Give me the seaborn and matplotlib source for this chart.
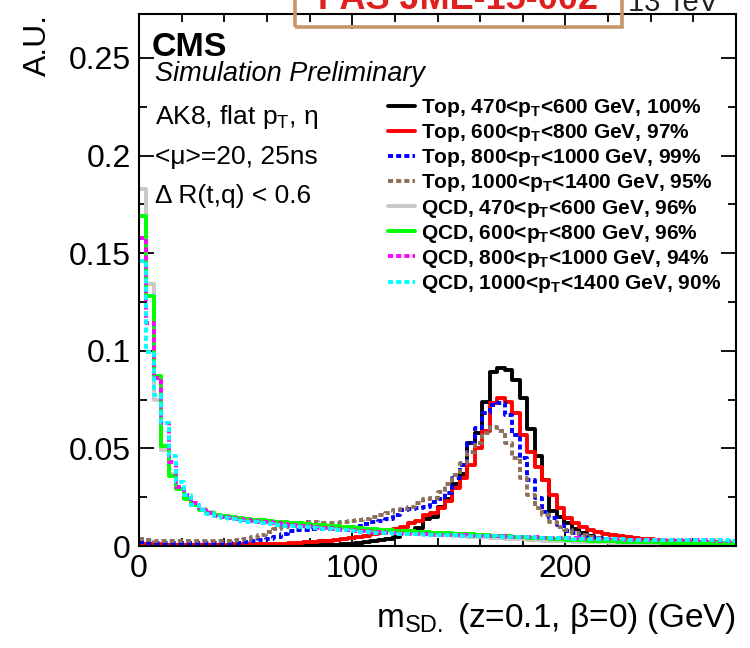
import numpy as np
import pandas as pd
import matplotlib
matplotlib.use("Agg")
import matplotlib.pyplot as plt
import seaborn as sns
from matplotlib.lines import Line2D
from matplotlib.patches import Rectangle
from matplotlib.ticker import MultipleLocator, FixedLocator

# ---------------- data ----------------
bin_width = 3.5
n_bins = 80
x_ticks = [0, 100, 200]
y_ticks = [0, 0.05, 0.1, 0.15, 0.2, 0.25]
y_tick_labels = ["0", "0.05", "0.1", "0.15", "0.2", "0.25"]

labels = [
    "Top, 470<p$_\\mathbf{T}$<600 GeV, 100%",
    "Top, 600<p$_\\mathbf{T}$<800 GeV, 97%",
    "Top, 800<p$_\\mathbf{T}$<1000 GeV, 99%",
    "Top, 1000<p$_\\mathbf{T}$<1400 GeV, 95%",
    "QCD, 470<p$_\\mathbf{T}$<600 GeV, 96%",
    "QCD, 600<p$_\\mathbf{T}$<800 GeV, 96%",
    "QCD, 800<p$_\\mathbf{T}$<1000 GeV, 94%",
    "QCD, 1000<p$_\\mathbf{T}$<1400 GeV, 90%",
]

top_470_600 = [
    0.0006, 0.0004, 0.0003, 0.0003, 0.0003, 0.0003, 0.0003, 0.0003, 0.0003, 0.0003,
    0.0003, 0.0002, 0.0003, 0.0003, 0.0002, 0.0003, 0.0003, 0.0003, 0.0003, 0.0003,
    0.0003, 0.0003, 0.0004, 0.0004, 0.0005, 0.0005, 0.0006, 0.0008, 0.0010, 0.0015,
    0.0020, 0.0025, 0.0030, 0.0036, 0.0045, 0.0065, 0.0075, 0.0092, 0.0140, 0.0146,
    0.0200, 0.0240, 0.0320, 0.0370, 0.0530, 0.0580, 0.0740, 0.0890, 0.0910, 0.0900,
    0.0850, 0.0760, 0.0600, 0.0460, 0.0340, 0.0180, 0.0150, 0.0120, 0.0085, 0.0065,
    0.0052, 0.0042, 0.0035, 0.0030, 0.0026, 0.0023, 0.0020, 0.0018, 0.0016, 0.0015,
    0.0014, 0.0013, 0.0012, 0.0011, 0.0010, 0.0010, 0.0009, 0.0009, 0.0008, 0.0008,
]
top_600_800 = [
    0.0010, 0.0008, 0.0008, 0.0007, 0.0007, 0.0007, 0.0007, 0.0007, 0.0007, 0.0007,
    0.0007, 0.0007, 0.0008, 0.0008, 0.0008, 0.0009, 0.0009, 0.0010, 0.0011, 0.0012,
    0.0014, 0.0016, 0.0019, 0.0022, 0.0025, 0.0028, 0.0031, 0.0035, 0.0040, 0.0045,
    0.0052, 0.0060, 0.0068, 0.0076, 0.0088, 0.0099, 0.0120, 0.0130, 0.0160, 0.0170,
    0.0194, 0.0228, 0.0297, 0.0350, 0.0415, 0.0500, 0.0587, 0.0730, 0.0760, 0.0740,
    0.0680, 0.0570, 0.0480, 0.0405, 0.0340, 0.0260, 0.0195, 0.0144, 0.0120, 0.0098,
    0.0082, 0.0072, 0.0064, 0.0057, 0.0051, 0.0046, 0.0042, 0.0038, 0.0034, 0.0031,
    0.0028, 0.0026, 0.0024, 0.0022, 0.0021, 0.0020, 0.0019, 0.0018, 0.0017, 0.0016,
]
top_800_1000 = [
    0.0022, 0.0016, 0.0015, 0.0015, 0.0015, 0.0015, 0.0015, 0.0015, 0.0015, 0.0015,
    0.0015, 0.0015, 0.0016, 0.0017, 0.0020, 0.0025, 0.0030, 0.0035, 0.0046, 0.0060,
    0.0075, 0.0082, 0.0083, 0.0085, 0.0085, 0.0087, 0.0089, 0.0092, 0.0097, 0.0105,
    0.0115, 0.0122, 0.0130, 0.0140, 0.0160, 0.0185, 0.0190, 0.0195, 0.0200, 0.0226,
    0.0240, 0.0270, 0.0350, 0.0415, 0.0530, 0.0605, 0.0680, 0.0720, 0.0730, 0.0670,
    0.0570, 0.0450, 0.0340, 0.0246, 0.0175, 0.0144, 0.0110, 0.0075, 0.0065, 0.0056,
    0.0047, 0.0040, 0.0034, 0.0029, 0.0025, 0.0022, 0.0020, 0.0018, 0.0016, 0.0015,
    0.0014, 0.0013, 0.0012, 0.0011, 0.0010, 0.0010, 0.0009, 0.0009, 0.0008, 0.0008,
]
top_1000_1400 = [
    0.0035, 0.0030, 0.0028, 0.0028, 0.0027, 0.0027, 0.0027, 0.0027, 0.0027, 0.0027,
    0.0027, 0.0027, 0.0028, 0.0030, 0.0035, 0.0045, 0.0055, 0.0070, 0.0085, 0.0098,
    0.0115, 0.0120, 0.0122, 0.0122, 0.0120, 0.0118, 0.0120, 0.0125, 0.0130, 0.0135,
    0.0140, 0.0150, 0.0160, 0.0170, 0.0185, 0.0190, 0.0200, 0.0220, 0.0240, 0.0246,
    0.0277, 0.0320, 0.0365, 0.0426, 0.0480, 0.0530, 0.0580, 0.0610, 0.0590, 0.0530,
    0.0450, 0.0350, 0.0260, 0.0195, 0.0160, 0.0123, 0.0098, 0.0080, 0.0067, 0.0055,
    0.0046, 0.0040, 0.0035, 0.0031, 0.0027, 0.0024, 0.0022, 0.0020, 0.0018, 0.0016,
    0.0015, 0.0014, 0.0013, 0.0012, 0.0011, 0.0010, 0.0010, 0.0009, 0.0009, 0.0008,
]
qcd_470_600 = [
    0.1830, 0.1340, 0.0750, 0.0490, 0.0370, 0.0290, 0.0245, 0.0212, 0.0190, 0.0172,
    0.0160, 0.0150, 0.0143, 0.0138, 0.0134, 0.0130, 0.0127, 0.0124, 0.0121, 0.0118,
    0.0115, 0.0112, 0.0108, 0.0105, 0.0102, 0.0099, 0.0096, 0.0093, 0.0090, 0.0087,
    0.0084, 0.0081, 0.0078, 0.0075, 0.0072, 0.0069, 0.0066, 0.0063, 0.0060, 0.0058,
    0.0056, 0.0054, 0.0052, 0.0050, 0.0048, 0.0046, 0.0044, 0.0042, 0.0040, 0.0038,
    0.0036, 0.0034, 0.0032, 0.0030, 0.0028, 0.0026, 0.0025, 0.0024, 0.0022, 0.0021,
    0.0020, 0.0019, 0.0018, 0.0017, 0.0016, 0.0015, 0.0014, 0.0013, 0.0013, 0.0012,
    0.0012, 0.0011, 0.0011, 0.0010, 0.0010, 0.0010, 0.0009, 0.0009, 0.0009, 0.0008,
]
qcd_600_800 = [
    0.1690, 0.1280, 0.0870, 0.0510, 0.0360, 0.0290, 0.0240, 0.0210, 0.0185, 0.0170,
    0.0160, 0.0152, 0.0146, 0.0141, 0.0137, 0.0134, 0.0131, 0.0128, 0.0125, 0.0122,
    0.0119, 0.0116, 0.0113, 0.0110, 0.0107, 0.0104, 0.0101, 0.0098, 0.0095, 0.0092,
    0.0089, 0.0086, 0.0083, 0.0081, 0.0079, 0.0077, 0.0075, 0.0073, 0.0071, 0.0069,
    0.0067, 0.0065, 0.0063, 0.0061, 0.0059, 0.0057, 0.0055, 0.0053, 0.0051, 0.0049,
    0.0047, 0.0045, 0.0043, 0.0041, 0.0039, 0.0037, 0.0035, 0.0033, 0.0031, 0.0029,
    0.0027, 0.0026, 0.0025, 0.0024, 0.0023, 0.0022, 0.0021, 0.0020, 0.0019, 0.0018,
    0.0017, 0.0017, 0.0016, 0.0016, 0.0015, 0.0015, 0.0015, 0.0014, 0.0014, 0.0014,
]
qcd_800_1000 = [
    0.1580, 0.1140, 0.0860, 0.0630, 0.0430, 0.0300, 0.0260, 0.0220, 0.0185, 0.0168,
    0.0156, 0.0148, 0.0141, 0.0136, 0.0131, 0.0127, 0.0124, 0.0121, 0.0117, 0.0113,
    0.0109, 0.0105, 0.0101, 0.0097, 0.0093, 0.0090, 0.0087, 0.0084, 0.0081, 0.0078,
    0.0075, 0.0072, 0.0070, 0.0068, 0.0066, 0.0064, 0.0062, 0.0060, 0.0059, 0.0058,
    0.0057, 0.0056, 0.0055, 0.0054, 0.0053, 0.0052, 0.0051, 0.0050, 0.0049, 0.0048,
    0.0047, 0.0046, 0.0045, 0.0044, 0.0043, 0.0042, 0.0041, 0.0040, 0.0039, 0.0038,
    0.0037, 0.0036, 0.0035, 0.0034, 0.0034, 0.0033, 0.0033, 0.0032, 0.0032, 0.0031,
    0.0031, 0.0030, 0.0030, 0.0030, 0.0029, 0.0029, 0.0029, 0.0028, 0.0028, 0.0028,
]
qcd_1000_1400 = [
    0.1460, 0.0995, 0.0775, 0.0630, 0.0460, 0.0330, 0.0260, 0.0210, 0.0185, 0.0165,
    0.0152, 0.0143, 0.0136, 0.0130, 0.0125, 0.0121, 0.0117, 0.0113, 0.0109, 0.0105,
    0.0101, 0.0098, 0.0095, 0.0092, 0.0089, 0.0086, 0.0083, 0.0080, 0.0077, 0.0074,
    0.0071, 0.0069, 0.0067, 0.0065, 0.0063, 0.0061, 0.0060, 0.0059, 0.0058, 0.0057,
    0.0056, 0.0055, 0.0054, 0.0053, 0.0052, 0.0051, 0.0050, 0.0049, 0.0048, 0.0047,
    0.0046, 0.0045, 0.0044, 0.0043, 0.0042, 0.0041, 0.0040, 0.0039, 0.0038, 0.0037,
    0.0036, 0.0035, 0.0035, 0.0034, 0.0034, 0.0033, 0.0033, 0.0032, 0.0032, 0.0031,
    0.0031, 0.0031, 0.0030, 0.0030, 0.0030, 0.0029, 0.0029, 0.0029, 0.0029, 0.0028,
]

series_values = [top_470_600, top_600_800, top_800_1000, top_1000_1400,
                 qcd_470_600, qcd_600_800, qcd_800_1000, qcd_1000_1400]

# ---------------- style ----------------
colors = ["#000000", "#ff0000", "#0000ff", "#8c6e5a",
          "#c8c8c8", "#00ff00", "#ff00ff", "#00ffff"]
dash = (0, (1.3, 0.8))
styles = ["-", "-", dash, dash, "-", "-", dash, dash]

sns.set_theme(style="ticks")
plt.rcParams["font.family"] = ["Liberation Sans", "DejaVu Sans"]
plt.rcParams.update({
    "mathtext.fontset": "custom",
    "mathtext.rm": "Liberation Sans",
    "mathtext.it": "Liberation Sans:italic",
    "mathtext.bf": "Liberation Sans:bold",
    "axes.linewidth": 1.5,
    "axes.edgecolor": "#000000",
    "text.color": "#000000",
    "axes.labelcolor": "#000000",
    "xtick.color": "#000000",
    "ytick.color": "#000000",
    "xtick.labelcolor": "#000000",
    "ytick.labelcolor": "#000000",
})

centers = np.arange(n_bins) * bin_width + bin_width / 2
frames = []
for lab, vals in zip(labels, series_values):
    frames.append(pd.DataFrame({"mass": centers, "value": vals, "sample": lab}))
df = pd.concat(frames, ignore_index=True)

W, H = 750, 648
fig = plt.figure(figsize=(7.5, 6.48), dpi=100)
ax = fig.add_axes([139 / W, 1 - 546 / H, (736 - 139) / W, (546 - 14) / H])

lw = 2.8
for lab, col, ls in zip(labels, colors, styles):
    sns.histplot(data=df[df["sample"] == lab], x="mass", weights="value",
                 binwidth=bin_width, binrange=(0, n_bins * bin_width),
                 element="step", fill=False, color=col,
                 linestyle=ls, linewidth=lw, ax=ax)

ax.set_xlim(0, 280)
ax.set_ylim(0, 0.2725)
ax.xaxis.set_major_locator(FixedLocator(x_ticks))
ax.xaxis.set_minor_locator(MultipleLocator(20))
ax.yaxis.set_major_locator(FixedLocator(y_ticks))
ax.set_yticklabels(y_tick_labels)
ax.yaxis.set_minor_locator(MultipleLocator(0.025))
ax.tick_params(which="both", direction="in", top=True, right=True,
               width=1.3, colors="#000000", labelcolor="#000000",
               labelsize=23, pad=6)
ax.tick_params(which="major", length=11)
ax.tick_params(which="minor", length=5.5)
for s in ax.spines.values():
    s.set_visible(True)
    s.set_linewidth(1.5)

ax.set_xlabel("m$_{\\mathrm{SD.}}$ (z=0.1, \u03b2=0) (GeV)", fontsize=24,
              loc="right", labelpad=12, color="#000000")
ax.set_ylabel("A.U.", fontsize=23, loc="top", labelpad=11, color="#000000")

# legend
handles = [Line2D([0], [0], color=c, linestyle=s, linewidth=lw) for c, s in zip(colors, styles)]
ax.legend(handles, labels, loc="upper left", bbox_to_anchor=(388 / W, 1 - 97 / H),
          bbox_transform=fig.transFigure, frameon=False, borderpad=0,
          borderaxespad=0, handlelength=1.3, handletextpad=0.3,
          labelspacing=0.15, labelcolor="#000000",
          prop={"weight": "bold", "size": 15})

# annotations
def ftext(x, y, s, **kw):
    fig.text(x / W, 1 - y / H, s, color=kw.pop("color", "#000000"), **kw)

ftext(152, 56, "CMS", fontsize=24.5, fontweight="bold", va="baseline")
ftext(155, 81, "Simulation Preliminary", fontsize=19.5, style="italic", va="baseline")
ftext(155, 124, "AK8, flat p$_\\mathrm{T}$, \u03b7", fontsize=19, va="baseline")
ftext(155, 164, "<\u03bc>=20, 25ns", fontsize=19, va="baseline")
ftext(155, 203, "\u0394 R(t,q) < 0.6", fontsize=19, va="baseline")

# header elements cut by the top edge of the reference image
fig.patches.append(Rectangle((295 / W, 1 - 27 / H), (622 - 295) / W, 60 / H,
                             transform=fig.transFigure, fill=False,
                             edgecolor="#c8966b", linewidth=2.6))
ftext(458, 9, "PAS JME-15-002", fontsize=26, fontweight="bold", color="#e0201e",
      ha="center", va="baseline")
ftext(628, 11, "13 TeV", fontsize=21, color="#222222", ha="left", va="baseline")

fig.savefig("out.png", dpi=100)
